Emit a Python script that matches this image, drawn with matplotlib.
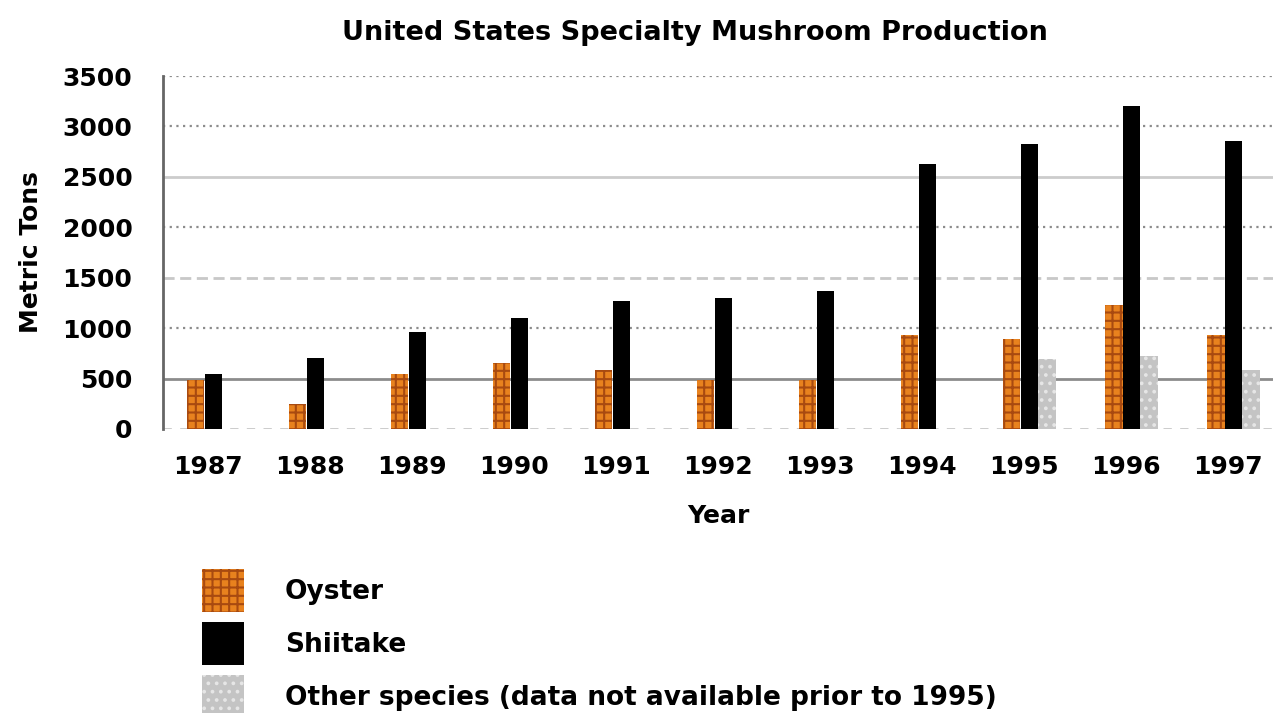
import numpy as np
import matplotlib.pyplot as plt

# data
years = ['1987', '1988', '1989', '1990', '1991', '1992', '1993', '1994', '1995', '1996', '1997']
oyster = [490, 250, 550, 650, 585, 485, 485, 930, 890, 1230, 930]
shiitake = [550, 700, 960, 1100, 1265, 1295, 1370, 2625, 2830, 3200, 2860]
other = [np.nan] * 8 + [690, 725, 585]
labels = ['Oyster', 'Shiitake', 'Other species (data not available prior to 1995)']

plt.rcParams['font.family'] = ['DejaVu Sans']
plt.rcParams['hatch.linewidth'] = 1.5

fig = plt.figure(figsize=(12.73, 7.13), dpi=100)
ax = fig.add_axes([163 / 1273, 1 - 429 / 713, 1 - 163 / 1273, 353 / 713])

x = np.arange(len(years))
w = 0.17
b1 = ax.bar(x - 0.12, oyster, w, color='#e8821e', edgecolor='#a84a10', hatch='++', linewidth=0, label=labels[0], zorder=3)
b2 = ax.bar(x + 0.055, shiitake, w, color='black', linewidth=0, label=labels[1], zorder=3)
b3 = ax.bar(x + 0.225, other, w, color='#c4c4c4', edgecolor='#e6e6e6', hatch='..', linewidth=0, label=labels[2], zorder=3)

# gridlines, each drawn in the mixed styles of the original
grid_styles = {
    0: dict(color='#c8c8c8', ls=(0, (3, 3)), lw=2),
    500: dict(color='#8c8c8c', ls='-', lw=2),
    1000: dict(color='#8c8c8c', ls=(0, (1, 2)), lw=1.6),
    1500: dict(color='#c8c8c8', ls=(0, (4, 2)), lw=2),
    2000: dict(color='#8c8c8c', ls=(0, (1, 2)), lw=1.6),
    2500: dict(color='#cccccc', ls='-', lw=2),
    3000: dict(color='#8c8c8c', ls=(0, (1, 2)), lw=1.6),
    3500: dict(color='#8c8c8c', ls=(0, (1, 2)), lw=1.6),
}
for yv, st in grid_styles.items():
    ax.axhline(yv, zorder=1, **st)

ax.set_ylim(0, 3500)
ax.set_xlim(-0.44, len(years) - 0.56)
ax.set_yticks(range(0, 3501, 500))
ax.set_xticks(x)
ax.set_xticklabels(years)
ax.tick_params(axis='y', length=0, pad=22, labelsize=18)
ax.tick_params(axis='x', length=0, pad=19, labelsize=18)
for t in ax.get_xticklabels() + ax.get_yticklabels():
    t.set_fontweight('bold')

for s in ['top', 'right', 'bottom']:
    ax.spines[s].set_visible(False)
ax.spines['left'].set_color('#666666')
ax.spines['left'].set_linestyle((0, (2, 1)))
ax.spines['left'].set_linewidth(2)

ax.set_xlabel('Year', fontsize=18, fontweight='bold', labelpad=18)
ax.set_ylabel('Metric Tons', fontsize=18, fontweight='bold', labelpad=14)
fig.text(695 / 1273, 1 - 33 / 713, 'United States Specialty Mushroom Production',
         ha='center', va='center', fontsize=19.5, fontweight='bold')

fig.legend(handles=[b1, b2, b3], loc='upper left', bbox_to_anchor=(178 / 1273, 1 - 545 / 713),
           frameon=False, handlelength=1.6, handleheight=2.15,
           handletextpad=1.55, labelspacing=0.38, prop={'weight': 'bold', 'size': 19})

fig.savefig('out.png', dpi=100)
